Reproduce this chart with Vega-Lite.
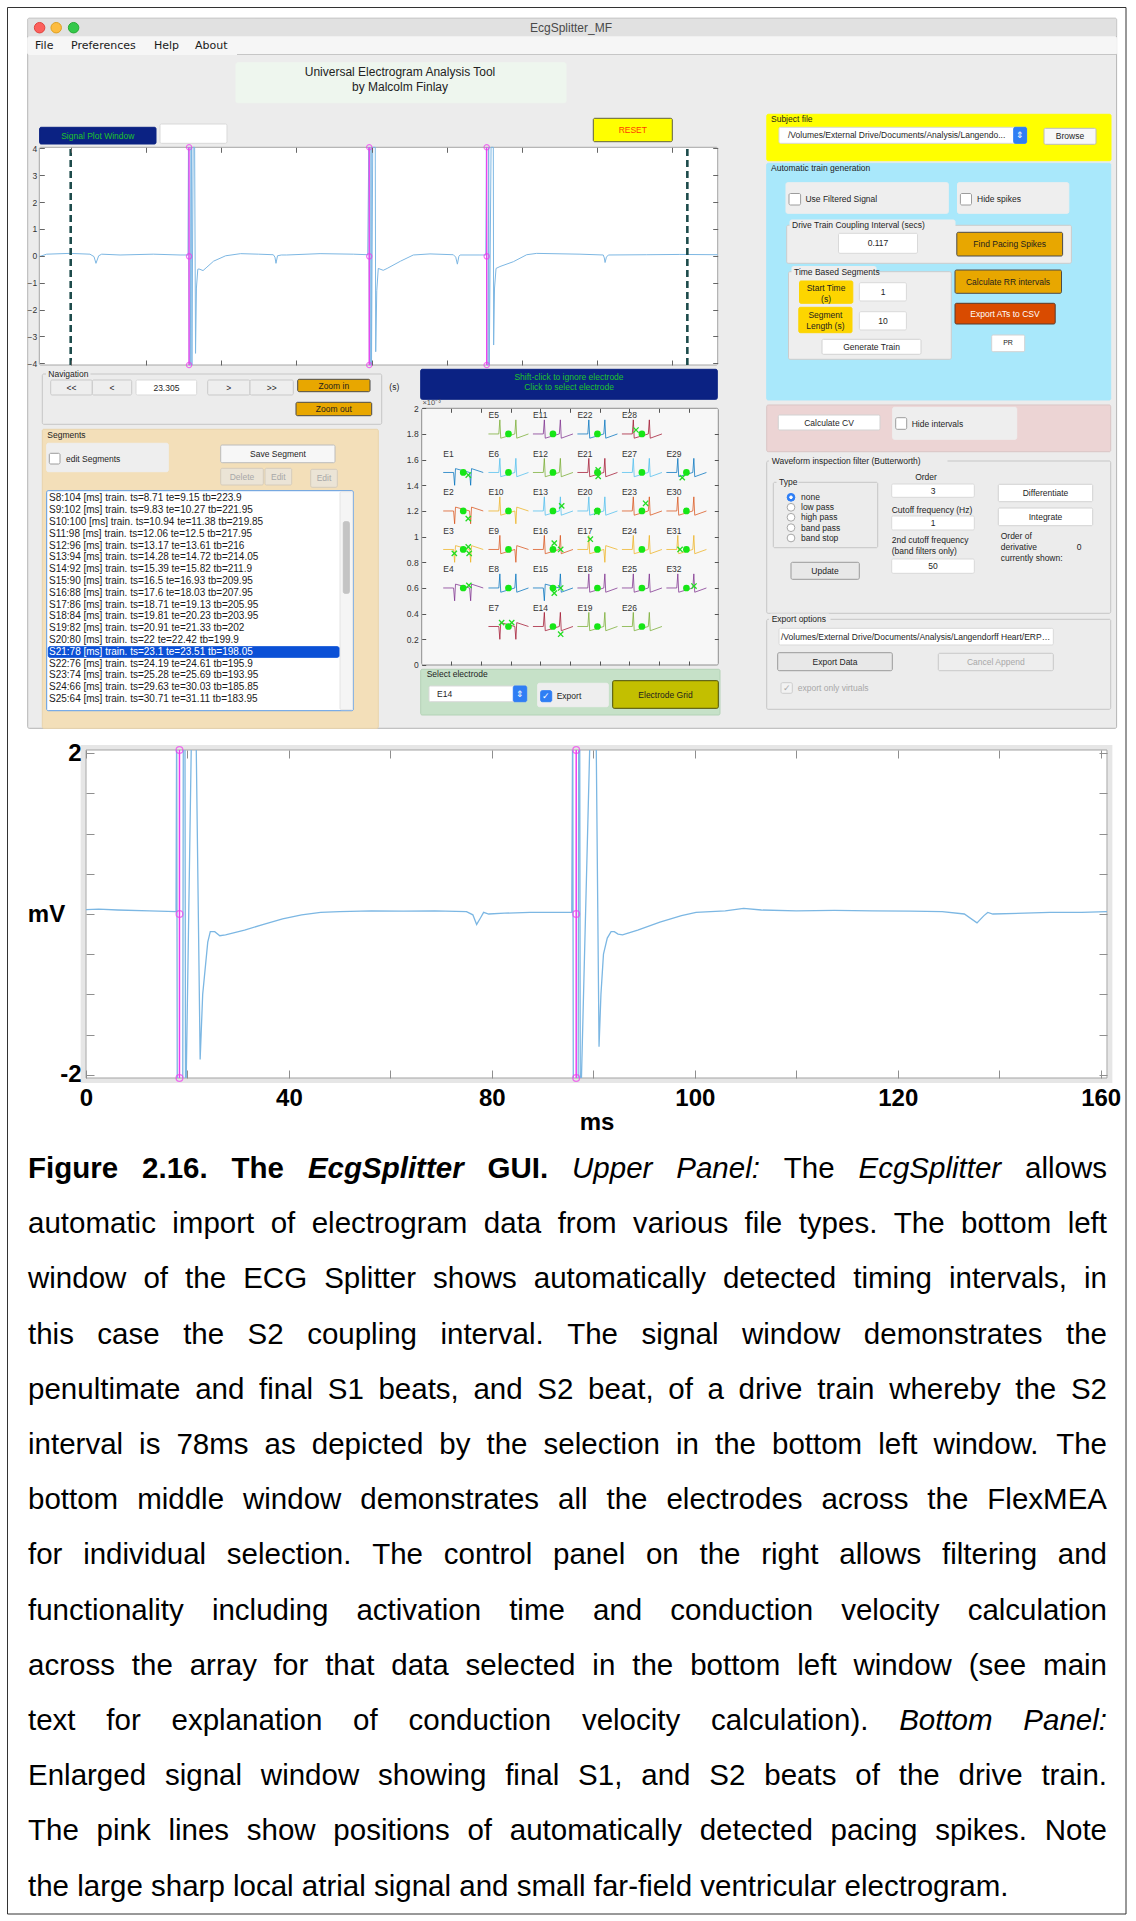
{
"$schema":"https://vega.github.io/schema/vega-lite/v6.json",
"padding":0,
"background":"#ffffff",
"spacing":0,
"bounds":"flush",
"config":{"font":"Liberation Sans","view":{"stroke":null},"legend":{"disable":true},"axis":{"grid":false,"zindex":1}},
"datasets":{
"gbox":[
{"x":27.7,"y":18.3,"x2":1116.6,"y2":728.3,"k":"window"},
{"x":27.7,"y":18.3,"x2":1116.6,"y2":36.7,"k":"titlebar"},
{"x":27.7,"y":36.7,"x2":1116.6,"y2":54.5,"k":"menubar"},
{"x":236,"y":62.7,"x2":566,"y2":102.7,"k":"titlebox"},
{"x":39.6,"y":127.3,"x2":156,"y2":144,"k":"navy"},
{"x":160,"y":124,"x2":227,"y2":143.3,"k":"white"},
{"x":593.3,"y":118.3,"x2":672.3,"y2":141.7,"k":"yellow"},
{"x":39.3,"y":147.3,"x2":717.7,"y2":365,"k":"plot"},
{"x":766.8,"y":114.3,"x2":1111,"y2":160.7,"k":"ypanel"},
{"x":779,"y":127.3,"x2":1026.6,"y2":143.3,"k":"white"},
{"x":1013.7,"y":127.3,"x2":1026.6,"y2":143.3,"k":"blue"},
{"x":1044,"y":128.3,"x2":1096,"y2":144.3,"k":"btn"},
{"x":766.7,"y":163.3,"x2":1110.7,"y2":400,"k":"cyan"},
{"x":786,"y":182.7,"x2":948.3,"y2":213.3,"k":"pg"},
{"x":789,"y":193.5,"x2":800.6,"y2":205,"k":"chk"},
{"x":957.5,"y":182.7,"x2":1068.8,"y2":213.3,"k":"pg"},
{"x":960.4,"y":193.5,"x2":971.5,"y2":205,"k":"chk"},
{"x":786.7,"y":225.3,"x2":1071.4,"y2":263.3,"k":"frame"},
{"x":790,"y":220,"x2":955,"y2":231,"k":"pg"},
{"x":838.5,"y":233.3,"x2":917.5,"y2":253.3,"k":"white"},
{"x":956.8,"y":232.3,"x2":1062.6,"y2":256,"k":"gold"},
{"x":788.5,"y":271.7,"x2":951.3,"y2":359.3,"k":"frame"},
{"x":792,"y":266.5,"x2":876,"y2":277,"k":"pg"},
{"x":799.5,"y":281,"x2":852.8,"y2":303.3,"k":"ylab"},
{"x":859.4,"y":282.7,"x2":906.4,"y2":301,"k":"white"},
{"x":798.8,"y":307.3,"x2":852,"y2":332.7,"k":"ylab"},
{"x":859.4,"y":311.7,"x2":906.4,"y2":330,"k":"white"},
{"x":822,"y":339.3,"x2":921,"y2":354.3,"k":"wbtn"},
{"x":955,"y":270,"x2":1061.5,"y2":293.3,"k":"gold"},
{"x":955,"y":303.3,"x2":1055.2,"y2":324,"k":"orange"},
{"x":991.7,"y":335,"x2":1024.7,"y2":351.7,"k":"wbtn"},
{"x":766.7,"y":405,"x2":1110.7,"y2":451.7,"k":"pink"},
{"x":778.3,"y":415,"x2":880,"y2":430,"k":"wbtn"},
{"x":892.7,"y":407.3,"x2":1016.7,"y2":439.3,"k":"pg"},
{"x":895.7,"y":417.7,"x2":906.7,"y2":429.3,"k":"chk"},
{"x":766.7,"y":461,"x2":1110.7,"y2":613.3,"k":"frame2"},
{"x":769.5,"y":456,"x2":947,"y2":466,"k":"lbg"},
{"x":773.3,"y":482.3,"x2":877.7,"y2":547.7,"k":"frame2"},
{"x":777,"y":477.5,"x2":798,"y2":487,"k":"lbg"},
{"x":891.7,"y":484,"x2":974.3,"y2":497.3,"k":"white"},
{"x":891.7,"y":516,"x2":974.3,"y2":530,"k":"white"},
{"x":891.7,"y":559,"x2":974.3,"y2":573.3,"k":"white"},
{"x":791,"y":562.3,"x2":859.3,"y2":579.3,"k":"gbtn"},
{"x":998.3,"y":484.3,"x2":1092.7,"y2":501.7,"k":"wbtn"},
{"x":998.3,"y":508,"x2":1092.7,"y2":525.7,"k":"wbtn"},
{"x":766.7,"y":619.3,"x2":1110.7,"y2":709.3,"k":"frame2"},
{"x":769.5,"y":614,"x2":830,"y2":624.5,"k":"lbg"},
{"x":779,"y":628.3,"x2":1053.3,"y2":645,"k":"white"},
{"x":777.7,"y":652.7,"x2":892.3,"y2":670.7,"k":"gbtn"},
{"x":938.3,"y":653.3,"x2":1053.3,"y2":670.7,"k":"gbtn2"},
{"x":781,"y":682.7,"x2":792.3,"y2":693.3,"k":"chk2"},
{"x":42.3,"y":374,"x2":381.7,"y2":424.3,"k":"frame2"},
{"x":46.5,"y":369,"x2":90,"y2":379,"k":"lbg"},
{"x":50.7,"y":380,"x2":92.3,"y2":395,"k":"gbtn2"},
{"x":92.3,"y":380,"x2":131.7,"y2":395,"k":"gbtn2"},
{"x":136,"y":380,"x2":196.7,"y2":395,"k":"white"},
{"x":207.7,"y":380,"x2":250,"y2":395,"k":"gbtn2"},
{"x":250,"y":380,"x2":293.3,"y2":395,"k":"gbtn2"},
{"x":297.7,"y":379.3,"x2":370,"y2":391.7,"k":"gold"},
{"x":296,"y":402.3,"x2":371.7,"y2":415.7,"k":"gold"},
{"x":42.3,"y":429.3,"x2":378.3,"y2":728.3,"k":"wheat"},
{"x":46.7,"y":443.3,"x2":168.3,"y2":471.7,"k":"pg"},
{"x":49.3,"y":453.3,"x2":60,"y2":464,"k":"chk"},
{"x":220.7,"y":445,"x2":335,"y2":462.7,"k":"btn"},
{"x":220.7,"y":468.3,"x2":263.3,"y2":485,"k":"dbtn"},
{"x":265,"y":468.3,"x2":291.7,"y2":485,"k":"dbtn"},
{"x":310.7,"y":469.3,"x2":337.3,"y2":487.3,"k":"dbtn"},
{"x":46.7,"y":490.7,"x2":353.3,"y2":710.7,"k":"list"},
{"x":340,"y":491.7,"x2":352.7,"y2":709.7,"k":"strack"},
{"x":343.3,"y":521.7,"x2":349.3,"y2":593.3,"k":"sthumb"},
{"x":48.3,"y":646.7,"x2":339,"y2":657.3,"k":"sel"},
{"x":420.7,"y":369.3,"x2":717.3,"y2":399.3,"k":"navy"},
{"x":421.7,"y":408.3,"x2":718.3,"y2":665,"k":"egrid"},
{"x":420.7,"y":669.3,"x2":720,"y2":715,"k":"green"},
{"x":429,"y":686,"x2":526.7,"y2":701.7,"k":"white"},
{"x":513.3,"y":686,"x2":526.7,"y2":701.7,"k":"blue"},
{"x":537.7,"y":683.3,"x2":608.3,"y2":706.7,"k":"pg"},
{"x":540.7,"y":690.7,"x2":551.7,"y2":701.7,"k":"blue"},
{"x":612.7,"y":680.7,"x2":718.3,"y2":708.3,"k":"olive"}
],
"grule":[
{"x":7.5,"y":7.5,"x2":1126,"y2":7.5,"k":"border"},
{"x":7.5,"y":7.5,"x2":7.5,"y2":750,"k":"border"},
{"x":1126,"y":7.5,"x2":1126,"y2":750,"k":"border"},
{"x":237,"y":54.5,"x2":1116.6,"y2":54.5,"k":"sep"}
],
"gpt":[
{"x":39.6,"y":27.7,"k":"r"},{"x":56.2,"y":27.7,"k":"a"},{"x":73.6,"y":27.7,"k":"g"},
{"x":791,"y":497.3,"k":"rs"},{"x":791,"y":497.3,"k":"dot"},{"x":791,"y":507.3,"k":"rd"},{"x":791,"y":517.3,"k":"rd"},{"x":791,"y":527.7,"k":"rd"},{"x":791,"y":538,"k":"rd"}
],
"gmenu":[{"x":35,"y":46,"t":"File"},{"x":71,"y":46,"t":"Preferences"},{"x":154,"y":46,"t":"Help"},{"x":195,"y":46,"t":"About"}],
"gtl":[
{"x":48.3,"y":374,"t":"Navigation","k":"lbl"},
{"x":47.3,"y":434.7,"t":"Segments","k":"lbl"},
{"x":66,"y":458.7,"t":"edit Segments","k":"lbl"},
{"x":389.3,"y":386.7,"t":"(s)","k":"lbl"},
{"x":771,"y":119.3,"t":"Subject file","k":"lbl"},
{"x":788,"y":135.3,"t":"/Volumes/External Drive/Documents/Analysis/Langendo...","k":"lbl"},
{"x":771,"y":167.7,"t":"Automatic train generation","k":"lbl"},
{"x":805.4,"y":199,"t":"Use Filtered Signal","k":"lbl"},
{"x":977,"y":199,"t":"Hide spikes","k":"lbl"},
{"x":792,"y":225.3,"t":"Drive Train Coupling Interval (secs)","k":"lbl"},
{"x":794,"y":271.7,"t":"Time Based Segments","k":"lbl"},
{"x":911.7,"y":424,"t":"Hide intervals","k":"lbl"},
{"x":771.7,"y":461,"t":"Waveform inspection filter (Butterworth)","k":"lbl"},
{"x":779,"y":482.3,"t":"Type","k":"lbl"},
{"x":801,"y":497.3,"t":"none","k":"lbl"},
{"x":801,"y":507.3,"t":"low pass","k":"lbl"},
{"x":801,"y":517.3,"t":"high pass","k":"lbl"},
{"x":801,"y":527.7,"t":"band pass","k":"lbl"},
{"x":801,"y":538,"t":"band stop","k":"lbl"},
{"x":891.7,"y":540,"t":"2nd cutoff frequency","k":"lbl"},
{"x":891.7,"y":550.7,"t":"(band filters only)","k":"lbl"},
{"x":1000.7,"y":536,"t":"Order of","k":"lbl"},
{"x":1000.7,"y":547,"t":"derivative","k":"lbl"},
{"x":1000.7,"y":558.3,"t":"currently shown:","k":"lbl"},
{"x":1076.7,"y":547,"t":"0","k":"lbl"},
{"x":771.7,"y":619.3,"t":"Export options","k":"lbl"},
{"x":797.7,"y":688,"t":"export only virtuals","k":"dis"},
{"x":426.7,"y":674,"t":"Select electrode","k":"lbl"},
{"x":437,"y":693.8,"t":"E14","k":"lbl"},
{"x":556.7,"y":696,"t":"Export","k":"lbl"}
],
"gtc":[
{"x":571,"y":27.7,"t":"EcgSplitter_MF","k":"etitle"},
{"x":400,"y":71.7,"t":"Universal Electrogram Analysis Tool","k":"big"},
{"x":400,"y":87.3,"t":"by Malcolm Finlay","k":"big"},
{"x":97.8,"y":135.7,"t":"Signal Plot Window","k":"navy"},
{"x":632.8,"y":130,"t":"RESET","k":"reset"},
{"x":569,"y":376.7,"t":"Shift-click to ignore electrode","k":"navy"},
{"x":569,"y":387.3,"t":"Click to select electrode","k":"navy"},
{"x":71.5,"y":387.5,"t":"<<","k":"lbl"},
{"x":112,"y":387.5,"t":"<","k":"lbl"},
{"x":166.4,"y":387.5,"t":"23.305","k":"lbl"},
{"x":228.8,"y":387.5,"t":">","k":"lbl"},
{"x":271.7,"y":387.5,"t":">>","k":"lbl"},
{"x":333.8,"y":385.5,"t":"Zoom in","k":"lbl"},
{"x":333.8,"y":409,"t":"Zoom out","k":"lbl"},
{"x":277.9,"y":453.8,"t":"Save Segment","k":"lbl"},
{"x":242,"y":476.7,"t":"Delete","k":"dis"},
{"x":278.3,"y":476.7,"t":"Edit","k":"dis"},
{"x":324,"y":478.3,"t":"Edit","k":"dis"},
{"x":1070,"y":136.3,"t":"Browse","k":"lbl"},
{"x":878,"y":243.3,"t":"0.117","k":"lbl"},
{"x":1009.7,"y":244,"t":"Find Pacing Spikes","k":"lbl"},
{"x":826,"y":287.7,"t":"Start Time","k":"lbl"},
{"x":826,"y":298.5,"t":"(s)","k":"lbl"},
{"x":883,"y":291.8,"t":"1","k":"lbl"},
{"x":825.4,"y":315,"t":"Segment","k":"lbl"},
{"x":825.4,"y":326,"t":"Length (s)","k":"lbl"},
{"x":883,"y":320.8,"t":"10","k":"lbl"},
{"x":871.5,"y":346.8,"t":"Generate Train","k":"lbl"},
{"x":1008,"y":281.7,"t":"Calculate RR intervals","k":"lbl"},
{"x":1005,"y":313.7,"t":"Export ATs to CSV","k":"white"},
{"x":1008,"y":343.3,"t":"PR","k":"small"},
{"x":829,"y":422.5,"t":"Calculate CV","k":"lbl"},
{"x":926,"y":477,"t":"Order","k":"lbl"},
{"x":933,"y":490.7,"t":"3","k":"lbl"},
{"x":932,"y":510,"t":"Cutoff frequency (Hz)","k":"lbl"},
{"x":933,"y":523,"t":"1","k":"lbl"},
{"x":933,"y":566,"t":"50","k":"lbl"},
{"x":825,"y":570.8,"t":"Update","k":"lbl"},
{"x":1045.5,"y":493,"t":"Differentiate","k":"lbl"},
{"x":1045.5,"y":517,"t":"Integrate","k":"lbl"},
{"x":835,"y":661.7,"t":"Export Data","k":"lbl"},
{"x":995.8,"y":662,"t":"Cancel Append","k":"dis"},
{"x":665.5,"y":694.5,"t":"Electrode Grid","k":"lbl"},
{"x":786.6,"y":688,"t":"✓","k":"dis"},
{"x":546.2,"y":696.2,"t":"✓","k":"white"},
{"x":1020.2,"y":135.3,"t":"⇕","k":"white"},
{"x":520,"y":693.8,"t":"⇕","k":"white"}
],
"gpath":[{"x":781,"y":636.7,"t":"/Volumes/External Drive/Documents/Analysis/Langendorff Heart/ERP & (Conduction"}],
"glist":[
{"x":49,"y":498.3,"t":"S8:104 [ms] train.  ts=8.71 te=9.15 tb=223.9","k":"li"},
{"x":49,"y":510.1,"t":"S9:102 [ms] train.  ts=9.83 te=10.27 tb=221.95","k":"li"},
{"x":49,"y":521.9,"t":"S10:100 [ms] train.  ts=10.94 te=11.38 tb=219.85","k":"li"},
{"x":49,"y":533.7,"t":"S11:98 [ms] train.  ts=12.06 te=12.5 tb=217.95","k":"li"},
{"x":49,"y":545.5,"t":"S12:96 [ms] train.  ts=13.17 te=13.61 tb=216","k":"li"},
{"x":49,"y":557.3,"t":"S13:94 [ms] train.  ts=14.28 te=14.72 tb=214.05","k":"li"},
{"x":49,"y":569.1,"t":"S14:92 [ms] train.  ts=15.39 te=15.82 tb=211.9","k":"li"},
{"x":49,"y":580.9,"t":"S15:90 [ms] train.  ts=16.5 te=16.93 tb=209.95","k":"li"},
{"x":49,"y":592.7,"t":"S16:88 [ms] train.  ts=17.6 te=18.03 tb=207.95","k":"li"},
{"x":49,"y":604.5,"t":"S17:86 [ms] train.  ts=18.71 te=19.13 tb=205.95","k":"li"},
{"x":49,"y":616.3,"t":"S18:84 [ms] train.  ts=19.81 te=20.23 tb=203.95","k":"li"},
{"x":49,"y":628.1,"t":"S19:82 [ms] train.  ts=20.91 te=21.33 tb=202","k":"li"},
{"x":49,"y":639.9,"t":"S20:80 [ms] train.  ts=22 te=22.42 tb=199.9","k":"li"},
{"x":49,"y":651.7,"t":"S21:78 [ms] train.  ts=23.1 te=23.51 tb=198.05","k":"ls"},
{"x":49,"y":663.5,"t":"S22:76 [ms] train.  ts=24.19 te=24.61 tb=195.9","k":"li"},
{"x":49,"y":675.3,"t":"S23:74 [ms] train.  ts=25.28 te=25.69 tb=193.95","k":"li"},
{"x":49,"y":687.1,"t":"S24:66 [ms] train.  ts=29.63 te=30.03 tb=185.85","k":"li"},
{"x":49,"y":698.9,"t":"S25:64 [ms] train.  ts=30.71 te=31.11 tb=183.95","k":"li"}
],
"gsig":[
{"t":23.0791,"v":-0.03},{"t":23.084,"v":0.06},{"t":23.0995,"v":0.09},{"t":23.1128,"v":0.06},{"t":23.1155,"v":-0.03},{"t":23.1168,"v":-0.28},{"t":23.1186,"v":0.0},{"t":23.1206,"v":0.06},{"t":23.1328,"v":0.03},{"t":23.1549,"v":0.06},{"t":23.1727,"v":0.03},{"t":23.178,"v":0.03},
{"t":23.1783,"v":4.037},{"t":23.1788,"v":-4.063},{"t":23.1796,"v":-4.063},{"t":23.1799,"v":4.037},{"t":23.1803,"v":4.037},{"t":23.1806,"v":-4.063},{"t":23.1814,"v":4.037},{"t":23.1824,"v":4.037},{"t":23.183,"v":-3.63},{"t":23.1836,"v":-1.2},{"t":23.1845,"v":-0.5},{"t":23.1853,"v":-0.49},{"t":23.188,"v":-0.55},{"t":23.19,"v":-0.45},{"t":23.195,"v":-0.2},{"t":23.203,"v":0.0},{"t":23.213,"v":0.08},{"t":23.225,"v":0.06},{"t":23.2347,"v":0.04},{"t":23.2358,"v":-0.05},{"t":23.2365,"v":-0.28},{"t":23.2375,"v":0.0},{"t":23.24,"v":0.03},{"t":23.2436,"v":0.03},{"t":23.2658,"v":0.08},{"t":23.2879,"v":0.06},{"t":23.2975,"v":0.04},
{"t":23.2982,"v":4.037},{"t":23.2986,"v":-4.063},{"t":23.2994,"v":-4.063},{"t":23.2997,"v":4.037},{"t":23.3,"v":-4.063},{"t":23.3008,"v":4.037},{"t":23.3025,"v":4.037},{"t":23.3028,"v":-3.57},{"t":23.3035,"v":-1.3},{"t":23.3045,"v":-0.47},{"t":23.3078,"v":-0.54},{"t":23.3104,"v":-0.47},{"t":23.3193,"v":-0.2},{"t":23.3278,"v":0.03},{"t":23.3389,"v":0.07},{"t":23.3544,"v":0.04},{"t":23.356,"v":-0.05},{"t":23.3571,"v":-0.31},{"t":23.3581,"v":-0.02},{"t":23.3589,"v":0.03},{"t":23.3721,"v":0.03},{"t":23.376,"v":0.03},
{"t":23.3764,"v":4.037},{"t":23.3768,"v":-4.063},{"t":23.3776,"v":-4.063},{"t":23.3779,"v":4.037},{"t":23.3783,"v":-4.063},{"t":23.3795,"v":4.037},{"t":23.381,"v":4.037},{"t":23.3812,"v":-3.32},{"t":23.3818,"v":-1.2},{"t":23.3828,"v":-0.47},{"t":23.3854,"v":-0.4},{"t":23.3943,"v":-0.22},{"t":23.4032,"v":0.04},{"t":23.4098,"v":0.09},{"t":23.4386,"v":0.06},{"t":23.4541,"v":0.03},{"t":23.4548,"v":-0.08},{"t":23.4553,"v":-0.25},{"t":23.4562,"v":-0.05},{"t":23.4575,"v":0.03},{"t":23.483,"v":0.04},{"t":23.505,"v":0.05},{"t":23.5302,"v":0.04}
],
"gpink":[{"t":23.1787},{"t":23.2985},{"t":23.3766}],
"gpinkpt":[{"t":23.1787,"v":4.037},{"t":23.1787,"v":-0.02},{"t":23.1787,"v":-4.063},{"t":23.2985,"v":4.037},{"t":23.2985,"v":-0.02},{"t":23.2985,"v":-4.063},{"t":23.3766,"v":4.037},{"t":23.3766,"v":-0.02},{"t":23.3766,"v":-4.063}],
"gdash":[{"t":23.1},{"t":23.51}],
"etr":[
{"e":"E5","c":"green","x":[0.45,0.52,0.527,0.533,0.628,0.635,0.641,0.72],"y":[1.8,1.8,1.91,1.767,1.8,1.91,1.767,1.8]},
{"e":"E11","c":"purple","x":[0.75,0.82,0.827,0.833,0.928,0.935,0.941,1.02],"y":[1.8,1.8,1.91,1.767,1.8,1.91,1.767,1.8]},
{"e":"E22","c":"blue","x":[1.05,1.12,1.127,1.133,1.228,1.235,1.241,1.32],"y":[1.8,1.8,1.91,1.767,1.8,1.91,1.767,1.8]},
{"e":"E28","c":"red","x":[1.35,1.42,1.427,1.433,1.528,1.535,1.541,1.62],"y":[1.8,1.8,1.91,1.767,1.8,1.91,1.767,1.8]},
{"e":"E1","c":"blue","x":[0.145,0.215,0.222,0.228,0.323,0.33,0.336,0.415],"y":[1.5,1.5,1.4,1.53,1.5,1.4,1.53,1.5]},
{"e":"E6","c":"lblue","x":[0.45,0.52,0.527,0.533,0.628,0.635,0.641,0.72],"y":[1.5,1.5,1.61,1.467,1.5,1.61,1.467,1.5]},
{"e":"E12","c":"green","x":[0.75,0.82,0.827,0.833,0.928,0.935,0.941,1.02],"y":[1.5,1.5,1.61,1.467,1.5,1.61,1.467,1.5]},
{"e":"E21","c":"red","x":[1.05,1.12,1.127,1.133,1.228,1.235,1.241,1.32],"y":[1.5,1.5,1.61,1.467,1.5,1.61,1.467,1.5]},
{"e":"E27","c":"lblue","x":[1.35,1.42,1.427,1.433,1.528,1.535,1.541,1.62],"y":[1.5,1.5,1.61,1.467,1.5,1.61,1.467,1.5]},
{"e":"E29","c":"blue","x":[1.65,1.72,1.727,1.733,1.828,1.835,1.841,1.92],"y":[1.5,1.5,1.61,1.467,1.5,1.61,1.467,1.5]},
{"e":"E2","c":"orange","x":[0.145,0.215,0.222,0.228,0.323,0.33,0.336,0.415],"y":[1.2,1.2,1.1,1.23,1.2,1.1,1.23,1.2]},
{"e":"E10","c":"yellow","x":[0.45,0.52,0.527,0.533,0.628,0.635,0.641,0.72],"y":[1.2,1.2,1.31,1.167,1.2,1.1,1.23,1.2]},
{"e":"E13","c":"lblue","x":[0.75,0.82,0.827,0.833,0.928,0.935,0.941,1.02],"y":[1.2,1.2,1.31,1.167,1.2,1.31,1.167,1.2]},
{"e":"E20","c":"lblue","x":[1.05,1.12,1.127,1.133,1.228,1.235,1.241,1.32],"y":[1.2,1.2,1.31,1.167,1.2,1.31,1.167,1.2]},
{"e":"E23","c":"orange","x":[1.35,1.42,1.427,1.433,1.528,1.535,1.541,1.62],"y":[1.2,1.2,1.31,1.167,1.2,1.31,1.167,1.2]},
{"e":"E30","c":"orange","x":[1.65,1.72,1.727,1.733,1.828,1.835,1.841,1.92],"y":[1.2,1.2,1.31,1.167,1.2,1.31,1.167,1.2]},
{"e":"E3","c":"yellow","x":[0.145,0.215,0.222,0.228,0.323,0.33,0.336,0.415],"y":[0.9,0.9,0.8,0.93,0.9,0.8,0.93,0.9]},
{"e":"E9","c":"orange","x":[0.45,0.52,0.527,0.533,0.628,0.635,0.641,0.72],"y":[0.9,0.9,1.01,0.867,0.9,0.8,0.93,0.9]},
{"e":"E16","c":"orange","x":[0.75,0.82,0.827,0.833,0.928,0.935,0.941,1.02],"y":[0.9,0.9,1.01,0.867,0.9,1.01,0.867,0.9]},
{"e":"E17","c":"yellow","x":[1.05,1.12,1.127,1.133,1.228,1.235,1.241,1.32],"y":[0.9,0.9,1.01,0.867,0.9,0.8,0.93,0.9]},
{"e":"E24","c":"yellow","x":[1.35,1.42,1.427,1.433,1.528,1.535,1.541,1.62],"y":[0.9,0.9,1.01,0.867,0.9,1.01,0.867,0.9]},
{"e":"E31","c":"yellow","x":[1.65,1.72,1.727,1.733,1.828,1.835,1.841,1.92],"y":[0.9,0.9,1.01,0.867,0.9,1.01,0.867,0.9]},
{"e":"E4","c":"purple","x":[0.145,0.215,0.222,0.228,0.323,0.33,0.336,0.415],"y":[0.6,0.6,0.5,0.63,0.6,0.5,0.63,0.6]},
{"e":"E8","c":"blue","x":[0.45,0.52,0.527,0.533,0.628,0.635,0.641,0.72],"y":[0.6,0.6,0.71,0.567,0.6,0.71,0.567,0.6]},
{"e":"E15","c":"blue","x":[0.75,0.82,0.827,0.833,0.928,0.935,0.941,1.02],"y":[0.6,0.6,0.5,0.63,0.6,0.71,0.567,0.6]},
{"e":"E18","c":"purple","x":[1.05,1.12,1.127,1.133,1.228,1.235,1.241,1.32],"y":[0.6,0.6,0.71,0.567,0.6,0.71,0.567,0.6]},
{"e":"E25","c":"purple","x":[1.35,1.42,1.427,1.433,1.528,1.535,1.541,1.62],"y":[0.6,0.6,0.71,0.567,0.6,0.71,0.567,0.6]},
{"e":"E32","c":"purple","x":[1.65,1.72,1.727,1.733,1.828,1.835,1.841,1.92],"y":[0.6,0.6,0.71,0.567,0.6,0.71,0.567,0.6]},
{"e":"E7","c":"red","x":[0.45,0.52,0.527,0.533,0.628,0.635,0.641,0.72],"y":[0.3,0.3,0.2,0.33,0.3,0.2,0.33,0.3]},
{"e":"E14","c":"red","x":[0.75,0.82,0.827,0.833,0.928,0.935,0.941,1.02],"y":[0.3,0.3,0.41,0.267,0.3,0.41,0.267,0.3]},
{"e":"E19","c":"green","x":[1.05,1.12,1.127,1.133,1.228,1.235,1.241,1.32],"y":[0.3,0.3,0.41,0.267,0.3,0.41,0.267,0.3]},
{"e":"E26","c":"green","x":[1.35,1.42,1.427,1.433,1.528,1.535,1.541,1.62],"y":[0.3,0.3,0.41,0.267,0.3,0.41,0.267,0.3]}
],
"elec":[
{"e":"E5","x":0.585,"y":1.8},{"e":"E11","x":0.885,"y":1.8},{"e":"E22","x":1.185,"y":1.8},{"e":"E28","x":1.485,"y":1.8},
{"e":"E1","x":0.28,"y":1.5},{"e":"E6","x":0.585,"y":1.5},{"e":"E12","x":0.885,"y":1.5},{"e":"E21","x":1.185,"y":1.5},{"e":"E27","x":1.485,"y":1.5},{"e":"E29","x":1.785,"y":1.5},
{"e":"E2","x":0.28,"y":1.2},{"e":"E10","x":0.585,"y":1.2},{"e":"E13","x":0.885,"y":1.2},{"e":"E20","x":1.185,"y":1.2},{"e":"E23","x":1.485,"y":1.2},{"e":"E30","x":1.785,"y":1.2},
{"e":"E3","x":0.28,"y":0.9},{"e":"E9","x":0.585,"y":0.9},{"e":"E16","x":0.885,"y":0.9},{"e":"E17","x":1.185,"y":0.9},{"e":"E24","x":1.485,"y":0.9},{"e":"E31","x":1.785,"y":0.9},
{"e":"E4","x":0.28,"y":0.6},{"e":"E8","x":0.585,"y":0.6},{"e":"E15","x":0.885,"y":0.6},{"e":"E18","x":1.185,"y":0.6},{"e":"E25","x":1.485,"y":0.6},{"e":"E32","x":1.785,"y":0.6},
{"e":"E7","x":0.585,"y":0.3},{"e":"E14","x":0.885,"y":0.3},{"e":"E19","x":1.185,"y":0.3},{"e":"E26","x":1.485,"y":0.3}
],
"ecross":[
{"x":1.445,"y":1.831},{"x":0.314,"y":1.48},{"x":1.19,"y":1.52},{"x":1.19,"y":1.47},{"x":1.757,"y":1.46},{"x":0.314,"y":1.14},{"x":0.944,"y":1.24},{"x":1.18,"y":1.19},{"x":1.51,"y":1.26},{"x":0.22,"y":0.87},{"x":0.314,"y":0.92},{"x":0.32,"y":0.87},{"x":0.894,"y":0.95},{"x":0.937,"y":0.9},{"x":1.137,"y":0.98},{"x":1.742,"y":0.9},{"x":0.318,"y":0.62},{"x":0.894,"y":0.56},{"x":0.937,"y":0.6},{"x":1.836,"y":0.615},{"x":0.539,"y":0.33},{"x":0.607,"y":0.33},{"x":0.937,"y":0.24}
],
"bsig":[
{"u":0,"v":0.054},{"u":2,"v":0.06},{"u":5,"v":0.05},{"u":10,"v":0.04},{"u":14.2,"v":0.03},{"u":14.3,"v":2.6},{"u":14.4,"v":-2.6},{"u":15.25,"v":-2.6},{"u":15.35,"v":2.6},{"u":15.6,"v":2.6},{"u":15.7,"v":-2.6},{"u":16.7,"v":2.6},{"u":17.3,"v":2.6},{"u":18.0,"v":-1.81},{"u":18.4,"v":-1.0},{"u":19.2,"v":-0.35},{"u":19.6,"v":-0.22},{"u":20.3,"v":-0.22},{"u":21.1,"v":-0.27},{"u":22,"v":-0.26},{"u":25,"v":-0.2},{"u":28,"v":-0.13},{"u":31,"v":-0.06},{"u":34,"v":-0.01},{"u":37,"v":0.02},{"u":40,"v":0.03},{"u":45,"v":0.04},{"u":50,"v":0.035},{"u":55,"v":0.04},{"u":60,"v":0.03},{"u":61,"v":-0.01},{"u":61.6,"v":-0.13},{"u":62.2,"v":-0.05},{"u":62.7,"v":0.02},{"u":63.5,"v":0.0},{"u":66,"v":0.01},{"u":70,"v":0.02},{"u":76.6,"v":0.02},{"u":76.75,"v":2.6},{"u":76.85,"v":-2.6},{"u":77.6,"v":-2.6},{"u":77.7,"v":2.6},{"u":77.85,"v":2.6},{"u":77.95,"v":-2.6},{"u":79.6,"v":2.6},{"u":80.4,"v":2.6},{"u":80.9,"v":-1.65},{"u":81.2,"v":-1.0},{"u":81.6,"v":-0.5},{"u":82.2,"v":-0.3},{"u":82.8,"v":-0.22},{"u":83.3,"v":-0.22},{"u":83.9,"v":-0.25},{"u":84.6,"v":-0.26},{"u":87,"v":-0.2},{"u":90.5,"v":-0.1},{"u":93.9,"v":-0.02},{"u":96.2,"v":0.02},{"u":100.8,"v":0.04},{"u":103.7,"v":0.07},{"u":106.5,"v":0.05},{"u":112,"v":0.04},{"u":118,"v":0.045},{"u":124,"v":0.04},{"u":130,"v":0.035},{"u":135,"v":0.03},{"u":138.5,"v":0.0},{"u":140.5,"v":-0.11},{"u":141.6,"v":-0.02},{"u":142.2,"v":0.02},{"u":143,"v":0.0},{"u":148,"v":0.01},{"u":152,"v":0.02},{"u":157,"v":0.02},{"u":161,"v":0.03}
],
"bpink":[{"u":14.74},{"u":77.3}],
"bpinkpt":[{"u":14.74,"v":2.04},{"u":14.74,"v":0},{"u":14.74,"v":-2.04},{"u":77.3,"v":2.04},{"u":77.3,"v":0},{"u":77.3,"v":-2.04}],
"cap":[
{"ln":1,"p":0,"t":"Figure","s":"b"},{"ln":1,"p":3865.9,"t":"2.16.","s":"b"},{"ln":1,"p":6899.8,"t":"The","s":"b"},{"ln":1,"p":9487.7,"t":"EcgSplitter","s":"bi"},{"ln":1,"p":15576.6,"t":"GUI.","s":"b"},{"ln":1,"p":18442.5,"t":"Upper","s":"i"},{"ln":1,"p":21975.3,"t":"Panel:","s":"i"},{"ln":1,"p":25620.2,"t":"The","s":"n"},{"ln":1,"p":28153.1,"t":"EcgSplitter","s":"i"},{"ln":1,"p":33798,"t":"allows","s":"n"},
{"ln":2,"p":0,"t":"automatic","s":"n"},{"ln":2,"p":4891.5,"t":"import","s":"n"},{"ln":2,"p":8225.9,"t":"of","s":"n"},{"ln":2,"p":9616.4,"t":"electrogram","s":"n"},{"ln":2,"p":15451.8,"t":"data","s":"n"},{"ln":2,"p":17954.3,"t":"from","s":"n"},{"ln":2,"p":20510.7,"t":"various","s":"n"},{"ln":2,"p":24290.2,"t":"file","s":"n"},{"ln":2,"p":26124.6,"t":"types.","s":"n"},{"ln":2,"p":29349.1,"t":"The","s":"n"},{"ln":2,"p":31628.5,"t":"bottom","s":"n"},{"ln":2,"p":35242,"t":"left","s":"n"},
{"ln":3,"p":0,"t":"window","s":"n"},{"ln":3,"p":3912.8,"t":"of","s":"n"},{"ln":3,"p":5325.6,"t":"the","s":"n"},{"ln":3,"p":7294.4,"t":"ECG","s":"n"},{"ln":3,"p":10040.2,"t":"Splitter","s":"n"},{"ln":3,"p":13731,"t":"shows","s":"n"},{"ln":3,"p":17143.8,"t":"automatically","s":"n"},{"ln":3,"p":23557.6,"t":"detected","s":"n"},{"ln":3,"p":27972.4,"t":"timing","s":"n"},{"ln":3,"p":31218.2,"t":"intervals,","s":"n"},{"ln":3,"p":35798,"t":"in","s":"n"},
{"ln":4,"p":0,"t":"this","s":"n"},{"ln":4,"p":2351.3,"t":"case","s":"n"},{"ln":4,"p":5258.6,"t":"the","s":"n"},{"ln":4,"p":7443.9,"t":"S2","s":"n"},{"ln":4,"p":9462.2,"t":"coupling","s":"n"},{"ln":4,"p":13981.5,"t":"interval.","s":"n"},{"ln":4,"p":18277.8,"t":"The","s":"n"},{"ln":4,"p":20796.1,"t":"signal","s":"n"},{"ln":4,"p":24203.4,"t":"window","s":"n"},{"ln":4,"p":28332.7,"t":"demonstrates","s":"n"},{"ln":4,"p":35186,"t":"the","s":"n"},
{"ln":5,"p":0,"t":"penultimate","s":"n"},{"ln":5,"p":5665.4,"t":"and","s":"n"},{"ln":5,"p":7829.7,"t":"final","s":"n"},{"ln":5,"p":10160.1,"t":"S1","s":"n"},{"ln":5,"p":11879.4,"t":"beats,","s":"n"},{"ln":5,"p":15099.8,"t":"and","s":"n"},{"ln":5,"p":17264.2,"t":"S2","s":"n"},{"ln":5,"p":18983.5,"t":"beat,","s":"n"},{"ln":5,"p":21703.9,"t":"of","s":"n"},{"ln":5,"p":23034.2,"t":"a","s":"n"},{"ln":5,"p":24086.6,"t":"drive","s":"n"},{"ln":5,"p":26750,"t":"train","s":"n"},{"ln":5,"p":29191.3,"t":"whereby","s":"n"},{"ln":5,"p":33466.7,"t":"the","s":"n"},{"ln":5,"p":35353,"t":"S2","s":"n"},
{"ln":6,"p":0,"t":"interval","s":"n"},{"ln":6,"p":3766.4,"t":"is","s":"n"},{"ln":6,"p":5031.8,"t":"78ms","s":"n"},{"ln":6,"p":8020.1,"t":"as","s":"n"},{"ln":6,"p":9619.5,"t":"depicted","s":"n"},{"ln":6,"p":13942.9,"t":"by","s":"n"},{"ln":6,"p":15542.3,"t":"the","s":"n"},{"ln":6,"p":17475.7,"t":"selection","s":"n"},{"ln":6,"p":21965,"t":"in","s":"n"},{"ln":6,"p":23286.4,"t":"the","s":"n"},{"ln":6,"p":25219.8,"t":"bottom","s":"n"},{"ln":6,"p":28820.2,"t":"left","s":"n"},{"ln":6,"p":30697.6,"t":"window.","s":"n"},{"ln":6,"p":34852.9,"t":"The","s":"n"},
{"ln":7,"p":0,"t":"bottom","s":"n"},{"ln":7,"p":3700.1,"t":"middle","s":"n"},{"ln":7,"p":7288.2,"t":"window","s":"n"},{"ln":7,"p":11265.3,"t":"demonstrates","s":"n"},{"ln":7,"p":17966.4,"t":"all","s":"n"},{"ln":7,"p":19609.6,"t":"the","s":"n"},{"ln":7,"p":21642.7,"t":"electrodes","s":"n"},{"ln":7,"p":26898.8,"t":"across","s":"n"},{"ln":7,"p":30486.9,"t":"the","s":"n"},{"ln":7,"p":32520,"t":"FlexMEA","s":"n"},
{"ln":8,"p":0,"t":"for","s":"n"},{"ln":8,"p":1869.8,"t":"individual","s":"n"},{"ln":8,"p":6740.6,"t":"selection.","s":"n"},{"ln":8,"p":11667.5,"t":"The","s":"n"},{"ln":8,"p":14093.3,"t":"control","s":"n"},{"ln":8,"p":17797.1,"t":"panel","s":"n"},{"ln":8,"p":20945.9,"t":"on","s":"n"},{"ln":8,"p":22760.7,"t":"the","s":"n"},{"ln":8,"p":24853.6,"t":"right","s":"n"},{"ln":8,"p":27501.4,"t":"allows","s":"n"},{"ln":8,"p":30982.2,"t":"filtering","s":"n"},{"ln":8,"p":34908,"t":"and","s":"n"},
{"ln":9,"p":0,"t":"functionality","s":"n"},{"ln":9,"p":6233.6,"t":"including","s":"n"},{"ln":9,"p":11133.1,"t":"activation","s":"n"},{"ln":9,"p":16310.7,"t":"time","s":"n"},{"ln":9,"p":19153.3,"t":"and","s":"n"},{"ln":9,"p":21774.9,"t":"conduction","s":"n"},{"ln":9,"p":27564.4,"t":"velocity","s":"n"},{"ln":9,"p":31852,"t":"calculation","s":"n"},
{"ln":10,"p":0,"t":"across","s":"n"},{"ln":10,"p":3518.3,"t":"the","s":"n"},{"ln":10,"p":5481.6,"t":"array","s":"n"},{"ln":10,"p":8332.9,"t":"for","s":"n"},{"ln":10,"p":10073.2,"t":"that","s":"n"},{"ln":10,"p":12314.6,"t":"data","s":"n"},{"ln":10,"p":14833.9,"t":"selected","s":"n"},{"ln":10,"p":19131.2,"t":"in","s":"n"},{"ln":10,"p":20482.5,"t":"the","s":"n"},{"ln":10,"p":22445.8,"t":"bottom","s":"n"},{"ln":10,"p":26076.1,"t":"left","s":"n"},{"ln":10,"p":27983.4,"t":"window","s":"n"},{"ln":10,"p":31890.7,"t":"(see","s":"n"},{"ln":10,"p":34409,"t":"main","s":"n"},
{"ln":11,"p":0,"t":"text","s":"n"},{"ln":11,"p":2654.6,"t":"for","s":"n"},{"ln":11,"p":4864.3,"t":"explanation","s":"n"},{"ln":11,"p":11020.9,"t":"of","s":"n"},{"ln":11,"p":12897.5,"t":"conduction","s":"n"},{"ln":11,"p":18776.2,"t":"velocity","s":"n"},{"ln":11,"p":23152.8,"t":"calculation).","s":"n"},{"ln":11,"p":29530.4,"t":"Bottom","s":"i"},{"ln":11,"p":33741,"t":"Panel:","s":"i"},
{"ln":12,"p":0,"t":"Enlarged","s":"n"},{"ln":12,"p":4641.5,"t":"signal","s":"n"},{"ln":12,"p":7893,"t":"window","s":"n"},{"ln":12,"p":11866.5,"t":"showing","s":"n"},{"ln":12,"p":16174,"t":"final","s":"n"},{"ln":12,"p":18647.5,"t":"S1,","s":"n"},{"ln":12,"p":20788,"t":"and","s":"n"},{"ln":12,"p":23095.5,"t":"S2","s":"n"},{"ln":12,"p":24958,"t":"beats","s":"n"},{"ln":12,"p":28043.5,"t":"of","s":"n"},{"ln":12,"p":29517,"t":"the","s":"n"},{"ln":12,"p":31546.5,"t":"drive","s":"n"},{"ln":12,"p":34353,"t":"train.","s":"n"},
{"ln":13,"p":0,"t":"The","s":"n"},{"ln":13,"p":2323.8,"t":"pink","s":"n"},{"ln":13,"p":4758.6,"t":"lines","s":"n"},{"ln":13,"p":7415.4,"t":"show","s":"n"},{"ln":13,"p":10350.2,"t":"positions","s":"n"},{"ln":13,"p":14897,"t":"of","s":"n"},{"ln":13,"p":16331.8,"t":"automatically","s":"n"},{"ln":13,"p":22767.6,"t":"detected","s":"n"},{"ln":13,"p":27204.4,"t":"pacing","s":"n"},{"ln":13,"p":30751.2,"t":"spikes.","s":"n"},{"ln":13,"p":34464,"t":"Note","s":"n"},
{"ln":14,"p":0,"t":"the large sharp local atrial signal and small far-field ventricular electrogram.","s":"n"}
],
"cborder":[{"x":7.5,"x2":7.5,"y":0,"y2":836},{"x":1126,"x2":1126,"y":0,"y2":836},{"x":7.5,"x2":1126,"y":836,"y2":836}]
},
"vconcat":[
{
"width":1136,"height":750,
"layer":[
{
"layer":[
{"data":{"name":"gbox"},"mark":{"type":"rect","strokeWidth":1,"cornerRadius":1.5},
"encoding":{
"x":{"field":"x","type":"quantitative","scale":{"domain":[0,1136],"nice":false,"zero":false},"axis":null},
"x2":{"field":"x2"},
"y":{"field":"y","type":"quantitative","scale":{"domain":[0,750],"nice":false,"zero":false,"reverse":true},"axis":null},
"y2":{"field":"y2"},
"fill":{"field":"k","type":"nominal","scale":{"domain":["window","titlebar","menubar","titlebox","navy","white","yellow","plot","ypanel","blue","btn","cyan","pg","chk","frame","gold","ylab","wbtn","orange","pink","frame2","lbg","gbtn","gbtn2","chk2","wheat","dbtn","list","strack","sthumb","sel","egrid","green","olive"],"range":["#ececec","#e1e1e1","#f6f6f6","#eef6ee","#0b2283","#ffffff","#ffff00","#ffffff","#ffff00","#2f7ef4","#f7f7f7","#a9e8fb","#eeeeee","#ffffff","#eeeeee","#e8a700","#fdd500","#ffffff","#d94b00","#ecd4d4","#ececec","#ececec","#e8e8e8","#eeeeee","#f2f2f2","#f3dfb9","#ebe4d6","#ffffff","#f5f5f5","#c4c4c4","#0b50d6","#f7f7f7","#c6e1c8","#c3bf00"]}},
"stroke":{"field":"k","type":"nominal","scale":{"domain":["window","titlebar","menubar","titlebox","navy","white","yellow","plot","ypanel","blue","btn","cyan","pg","chk","frame","gold","ylab","wbtn","orange","pink","frame2","lbg","gbtn","gbtn2","chk2","wheat","dbtn","list","strack","sthumb","sel","egrid","green","olive"],"range":["#b5b5b5","#cdcdcd","#f6f6f6","#eef6ee","#0b2283","#d9d9d9","#5f5f40","#a6a6a6","#ffff00","#2f7ef4","#bcbcbc","#a9e8fb","#eeeeee","#9c9c9c","#cccccc","#4b4b4b","#fdd500","#d2d2d2","#5a3a2a","#d9c5c5","#c6c6c6","#ececec","#9a9a9a","#c9c9c9","#cccccc","#e9d4ac","#d5ccbc","#5b9ae6","#e4e4e4","#c4c4c4","#0b50d6","#8e8e8e","#b3d2b6","#4d4d00"]}}
}},
{"data":{"name":"grule"},"mark":{"type":"rule","strokeWidth":1},
"encoding":{
"x":{"field":"x","type":"quantitative","scale":{"domain":[0,1136],"nice":false,"zero":false},"axis":null},
"x2":{"field":"x2"},
"y":{"field":"y","type":"quantitative","scale":{"domain":[0,750],"nice":false,"zero":false,"reverse":true},"axis":null},
"y2":{"field":"y2"},
"stroke":{"field":"k","type":"nominal","scale":{"domain":["border","sep"],"range":["#333333","#c6c6c6"]}}
}},
{"data":{"name":"gpt"},"mark":{"type":"point","shape":"circle","filled":true,"strokeWidth":1,"opacity":1},
"encoding":{
"x":{"field":"x","type":"quantitative","scale":{"domain":[0,1136],"nice":false,"zero":false},"axis":null},
"y":{"field":"y","type":"quantitative","scale":{"domain":[0,750],"nice":false,"zero":false,"reverse":true},"axis":null},
"fill":{"field":"k","type":"nominal","scale":{"domain":["r","a","g","rs","dot","rd"],"range":["#fc605c","#fdbc40","#34c84a","#2f7ff6","#ffffff","#ffffff"]}},
"stroke":{"field":"k","type":"nominal","scale":{"domain":["r","a","g","rs","dot","rd"],"range":["#e0443e","#dea123","#27aa35","#2f7ff6","#ffffff","#a8a8a8"]}},
"size":{"field":"k","type":"nominal","scale":{"type":"ordinal","domain":["r","a","g","rs","dot","rd"],"range":[110,110,110,60,7,60]}}
}},
{"data":{"name":"gmenu"},"mark":{"type":"text","align":"left","baseline":"middle","font":"DejaVu Sans","fontSize":11,"color":"#1a1a1a"},
"encoding":{
"x":{"field":"x","type":"quantitative","scale":{"domain":[0,1136],"nice":false,"zero":false},"axis":null},
"y":{"field":"y","type":"quantitative","scale":{"domain":[0,750],"nice":false,"zero":false,"reverse":true},"axis":null},
"text":{"field":"t"}
}},
{"data":{"name":"gtl"},"mark":{"type":"text","align":"left","baseline":"middle"},
"encoding":{
"x":{"field":"x","type":"quantitative","scale":{"domain":[0,1136],"nice":false,"zero":false},"axis":null},
"y":{"field":"y","type":"quantitative","scale":{"domain":[0,750],"nice":false,"zero":false,"reverse":true},"axis":null},
"text":{"field":"t"},
"color":{"field":"k","type":"nominal","scale":{"domain":["lbl","big","navy","reset","white","dis","small","etitle"],"range":["#1e1e1e","#222222","#1ec22a","#ff3b00","#ffffff","#a8a8a8","#222222","#4a4a4a"]}},
"size":{"field":"k","type":"nominal","scale":{"type":"ordinal","domain":["lbl","big","navy","reset","white","dis","small","etitle"],"range":[8.5,12,8.5,8.5,8.5,8.5,7,12]}}
}},
{"data":{"name":"gtc"},"mark":{"type":"text","align":"center","baseline":"middle"},
"encoding":{
"x":{"field":"x","type":"quantitative","scale":{"domain":[0,1136],"nice":false,"zero":false},"axis":null},
"y":{"field":"y","type":"quantitative","scale":{"domain":[0,750],"nice":false,"zero":false,"reverse":true},"axis":null},
"text":{"field":"t"},
"color":{"field":"k","type":"nominal","scale":{"domain":["lbl","big","navy","reset","white","dis","small","etitle"],"range":["#1e1e1e","#222222","#1ec22a","#ff3b00","#ffffff","#a8a8a8","#222222","#4a4a4a"]}},
"size":{"field":"k","type":"nominal","scale":{"type":"ordinal","domain":["lbl","big","navy","reset","white","dis","small","etitle"],"range":[8.5,12,8.5,8.5,8.5,8.5,7,12]}}
}},
{"data":{"name":"gpath"},"mark":{"type":"text","align":"left","baseline":"middle","fontSize":8.5,"limit":270,"ellipsis":"","color":"#1e1e1e"},
"encoding":{
"x":{"field":"x","type":"quantitative","scale":{"domain":[0,1136],"nice":false,"zero":false},"axis":null},
"y":{"field":"y","type":"quantitative","scale":{"domain":[0,750],"nice":false,"zero":false,"reverse":true},"axis":null},
"text":{"field":"t"}
}},
{"data":{"name":"glist"},"mark":{"type":"text","align":"left","baseline":"middle","fontSize":10},
"encoding":{
"x":{"field":"x","type":"quantitative","scale":{"domain":[0,1136],"nice":false,"zero":false},"axis":null},
"y":{"field":"y","type":"quantitative","scale":{"domain":[0,750],"nice":false,"zero":false,"reverse":true},"axis":null},
"text":{"field":"t"},
"color":{"field":"k","type":"nominal","scale":{"domain":["li","ls"],"range":["#1a1a1a","#ffffff"]}}
}}
],
"resolve":{"scale":{"fill":"independent","stroke":"independent","color":"independent","size":"independent"}}
},
{
"layer":[
{"data":{"name":"gsig"},"mark":{"type":"line","color":"#7db7e3","strokeWidth":1},
"encoding":{
"x":{"field":"t","type":"quantitative","scale":{"domain":[23.05299,23.80831],"nice":false,"zero":false},
"axis":{"orient":"bottom","offset":-385,"zindex":1,"values":[23.1,23.15,23.2,23.25,23.3,23.35,23.4,23.45,23.5],"labels":false,"tickSize":-5,"tickColor":"#666666","domain":false,"grid":false,"title":null}},
"y":{"field":"v","type":"quantitative","scale":{"domain":[-18.389,9.518],"nice":false,"zero":false},
"axis":{"orient":"left","offset":-39.3,"zindex":1,"values":[-4,-3,-2,-1,0,1,2,3,4],"labelFontSize":8.5,"labelColor":"#333333","labelPadding":7.6,"labelOverlap":false,"tickSize":-5,"tickColor":"#666666","domain":false,"grid":false,"title":null}}
}},
{"data":{"name":"gdash"},"mark":{"type":"rule","color":"#1d4b4b","strokeWidth":2.6,"strokeDash":[7,4]},
"encoding":{
"x":{"field":"t","type":"quantitative","scale":{"domain":[23.05299,23.80831],"nice":false,"zero":false},"axis":null},
"y":{"datum":-4.063,"type":"quantitative","scale":{"domain":[-18.389,9.518],"nice":false,"zero":false},"axis":null},
"y2":{"datum":4.037}
}},
{"data":{"name":"gpink"},"mark":{"type":"rule","color":"#ee3dee","strokeWidth":1.3},
"encoding":{
"x":{"field":"t","type":"quantitative","scale":{"domain":[23.05299,23.80831],"nice":false,"zero":false},"axis":null},
"y":{"datum":-4.063,"type":"quantitative","scale":{"domain":[-18.389,9.518],"nice":false,"zero":false},"axis":null},
"y2":{"datum":4.037}
}},
{"data":{"name":"gpinkpt"},"mark":{"type":"point","shape":"circle","filled":false,"color":"#ee3dee","size":28,"strokeWidth":1.2},
"encoding":{
"x":{"field":"t","type":"quantitative","scale":{"domain":[23.05299,23.80831],"nice":false,"zero":false},
"axis":{"orient":"top","offset":-147.3,"zindex":1,"values":[23.1,23.15,23.2,23.25,23.3,23.35,23.4,23.45,23.5],"labels":false,"tickSize":-5,"tickColor":"#666666","domain":false,"grid":false,"title":null}},
"y":{"field":"v","type":"quantitative","scale":{"domain":[-18.389,9.518],"nice":false,"zero":false},
"axis":{"orient":"right","offset":-418.3,"zindex":1,"values":[-4,-3,-2,-1,0,1,2,3,4],"labels":false,"tickSize":-5,"tickColor":"#666666","domain":false,"grid":false,"title":null}}
}}
],
"resolve":{"axis":{"x":"independent","y":"independent"}}
},
{
"layer":[
{"data":{"name":"etr"},"transform":[{"flatten":["x","y"]}],"mark":{"type":"line","strokeWidth":1,"opacity":0.75},
"encoding":{
"x":{"field":"x","type":"quantitative","scale":{"domain":[-2.8436,4.8166],"nice":false,"zero":false},
"axis":{"orient":"bottom","offset":-85,"zindex":1,"values":[0.2,0.4,0.6,0.8,1,1.2,1.4,1.6,1.8],"labels":false,"tickSize":-4,"tickColor":"#555555","domain":false,"grid":false,"title":null}},
"y":{"field":"y","type":"quantitative","scale":{"domain":[-0.6623,5.1811],"nice":false,"zero":false},
"axis":{"orient":"left","offset":-421.7,"zindex":1,"values":[0,0.2,0.4,0.6,0.8,1,1.2,1.4,1.6,1.8,2],"format":"~g","labelFontSize":8.5,"labelColor":"#333333","labelPadding":7.5,"labelOverlap":false,"tickSize":-4,"tickColor":"#555555","domain":false,"grid":false,"title":null}},
"detail":{"field":"e"},
"stroke":{"field":"c","type":"nominal","scale":{"domain":["blue","orange","yellow","purple","green","lblue","red"],"range":["#0072bd","#d95319","#edb120","#7e2f8e","#77ac30","#4dbeee","#a2142f"]}}
}},
{"data":{"name":"elec"},"mark":{"type":"point","shape":"circle","filled":true,"color":"#16e616","size":45,"opacity":1},
"encoding":{
"x":{"field":"x","type":"quantitative","scale":{"domain":[-2.8436,4.8166],"nice":false,"zero":false},
"axis":{"orient":"top","offset":-408.3,"zindex":1,"values":[0.2,0.4,0.6,0.8,1,1.2,1.4,1.6,1.8],"labels":false,"tickSize":-4,"tickColor":"#555555","domain":false,"grid":false,"title":null}},
"y":{"field":"y","type":"quantitative","scale":{"domain":[-0.6623,5.1811],"nice":false,"zero":false},
"axis":{"orient":"right","offset":-417.7,"zindex":1,"values":[0.2,0.4,0.6,0.8,1,1.2,1.4,1.6,1.8],"labels":false,"tickSize":-4,"tickColor":"#555555","domain":false,"grid":false,"title":null}}
}},
{"data":{"name":"elec"},"mark":{"type":"text","align":"left","baseline":"middle","dx":-20,"dy":-18.5,"fontSize":8.5,"color":"#333333"},
"encoding":{
"x":{"field":"x","type":"quantitative","scale":{"domain":[-2.8436,4.8166],"nice":false,"zero":false},"axis":null},
"y":{"field":"y","type":"quantitative","scale":{"domain":[-0.6623,5.1811],"nice":false,"zero":false},"axis":null},
"text":{"field":"e"}
}},
{"data":{"name":"ecross"},"mark":{"type":"point","shape":"M-1,-1L1,1M1,-1L-1,1","size":28,"filled":false,"color":"#22dd22","strokeWidth":1.3,"opacity":1},
"encoding":{
"x":{"field":"x","type":"quantitative","scale":{"domain":[-2.8436,4.8166],"nice":false,"zero":false},"axis":null},
"y":{"field":"y","type":"quantitative","scale":{"domain":[-0.6623,5.1811],"nice":false,"zero":false},"axis":null}
}},
{"data":{"values":[{"x":0.005,"y":2,"t":"×10⁻³"}]},"mark":{"type":"text","align":"left","baseline":"middle","dy":-5,"fontSize":7.5,"color":"#555555"},
"encoding":{
"x":{"field":"x","type":"quantitative","scale":{"domain":[-2.8436,4.8166],"nice":false,"zero":false},"axis":null},
"y":{"field":"y","type":"quantitative","scale":{"domain":[-0.6623,5.1811],"nice":false,"zero":false},"axis":null},
"text":{"field":"t"}
}}
],
"resolve":{"axis":{"x":"independent","y":"independent"}}
}
],
"resolve":{"scale":{"x":"independent","y":"independent","color":"independent","fill":"independent","stroke":"independent","size":"independent","shape":"independent","opacity":"independent"}}
},
{
"width":1136,"height":328,
"layer":[
{"data":{"values":[{"x":7.5,"y":0,"y2":328},{"x":1126,"y":0,"y2":328}]},"mark":{"type":"rule","color":"#333333","strokeWidth":1},
"encoding":{"x":{"field":"x","type":"quantitative","scale":{"domain":[0,1136],"nice":false,"zero":false},"axis":null},"y":{"field":"y","type":"quantitative","scale":{"domain":[0,328],"nice":false,"zero":false},"axis":null},"y2":{"field":"y2"}}},
{"data":{"values":[{}]},"mark":{"type":"rect","fillOpacity":0,"stroke":"#e6e6e6","strokeWidth":5},
"encoding":{"x":{"datum":-0.45,"type":"quantitative","scale":{"domain":[-13.5612,165.5729],"nice":false,"zero":false},"axis":null},"x2":{"datum":161.45},"y":{"datum":-2.07,"type":"quantitative","scale":{"domain":[-2.04,2.04],"nice":false,"zero":false},"axis":null},"y2":{"datum":2.07}}},
{"data":{"values":[{}]},"mark":{"type":"rect","fillOpacity":0,"stroke":"#a3a3a3","strokeWidth":1},
"encoding":{"x":{"datum":0,"type":"quantitative","scale":{"domain":[-13.5612,165.5729],"nice":false,"zero":false},"axis":null},"x2":{"datum":161},"y":{"datum":-2.04,"type":"quantitative","scale":{"domain":[-2.04,2.04],"nice":false,"zero":false},"axis":null},"y2":{"datum":2.04}}},
{"data":{"name":"bsig"},"mark":{"type":"line","color":"#7cb7e3","strokeWidth":1.3,"clip":true},
"encoding":{
"x":{"field":"u","type":"quantitative","scale":{"domain":[-13.5612,165.5729],"nice":false,"zero":false},
"axis":{"orient":"bottom","zindex":1,"values":[0,16,32,48,64,80,96,112,128,144,160],"labelExpr":"datum.value==0?'0':datum.value==32?'40':datum.value==64?'80':datum.value==96?'100':datum.value==128?'120':datum.value==160?'160':''","tickSize":-8,"tickColor":"#8f8f8f","labelPadding":16.5,"labelFontWeight":"bold","labelFontSize":24,"labelColor":"#000000","labelFlush":false,"labelOverlap":false,"domain":false,"grid":false,"title":"ms","titleFontSize":24,"titleFontWeight":"bold","titleColor":"#000000","titleX":596.5,"titleY":51,"titleBaseline":"alphabetic","titleAlign":"center"}},
"y":{"field":"v","type":"quantitative","scale":{"domain":[-2.04,2.04],"nice":false,"zero":false},
"axis":{"orient":"left","offset":-86,"zindex":1,"values":[-2,-1.5,-1,-0.5,0,0.5,1,1.5,2],"labelExpr":"datum.value==2?'2':datum.value==-2?'-2':''","tickSize":-8,"tickColor":"#8f8f8f","labelPadding":13,"labelFontWeight":"bold","labelFontSize":24,"labelColor":"#000000","labelOverlap":false,"domain":false,"grid":false,"title":"mV","titleAngle":0,"titleX":-40,"titleY":164.5,"titleAlign":"center","titleBaseline":"middle","titleFontSize":24,"titleFontWeight":"bold","titleColor":"#000000"}}
}},
{"data":{"name":"bpink"},"mark":{"type":"rule","color":"#ef3def","strokeWidth":1.5},
"encoding":{"x":{"field":"u","type":"quantitative","scale":{"domain":[-13.5612,165.5729],"nice":false,"zero":false},"axis":null}}},
{"data":{"name":"bpinkpt"},"mark":{"type":"point","shape":"circle","filled":false,"color":"#ef3def","size":45,"strokeWidth":1.3,"clip":false},
"encoding":{
"x":{"field":"u","type":"quantitative","scale":{"domain":[-13.5612,165.5729],"nice":false,"zero":false},
"axis":{"orient":"top","zindex":1,"values":[0,16,32,48,64,80,96,112,128,144,160],"labels":false,"tickSize":-8,"tickColor":"#8f8f8f","domain":false,"grid":false,"title":null}},
"y":{"field":"v","type":"quantitative","scale":{"domain":[-2.04,2.04],"nice":false,"zero":false},
"axis":{"orient":"right","offset":-29,"zindex":1,"values":[-2,-1.5,-1,-0.5,0,0.5,1,1.5,2],"labels":false,"tickSize":-8,"tickColor":"#8f8f8f","domain":false,"grid":false,"title":null}}
}}
],
"resolve":{"scale":{"x":"independent","y":"independent"},"axis":{"x":"independent","y":"independent"}}
},
{
"width":1136,"height":843,
"layer":[
{"data":{"name":"cap"},"transform":[{"filter":"datum.s=='n'"}],"mark":{"type":"text","align":"left","baseline":"middle","fontSize":29.5,"color":"#000000"},
"encoding":{"x":{"field":"p","type":"quantitative","scale":{"domain":[-949.15,37559.32],"nice":false,"zero":false},"axis":null},"y":{"field":"ln","type":"quantitative","scale":{"domain":[-0.6486,14.623],"nice":false,"zero":false,"reverse":true},"axis":null},"text":{"field":"t"}}},
{"data":{"name":"cap"},"transform":[{"filter":"datum.s=='i'"}],"mark":{"type":"text","align":"left","baseline":"middle","fontSize":29.5,"fontStyle":"italic","color":"#000000"},
"encoding":{"x":{"field":"p","type":"quantitative","scale":{"domain":[-949.15,37559.32],"nice":false,"zero":false},"axis":null},"y":{"field":"ln","type":"quantitative","scale":{"domain":[-0.6486,14.623],"nice":false,"zero":false,"reverse":true},"axis":null},"text":{"field":"t"}}},
{"data":{"name":"cap"},"transform":[{"filter":"datum.s=='b'"}],"mark":{"type":"text","align":"left","baseline":"middle","fontSize":29.5,"fontWeight":"bold","color":"#000000"},
"encoding":{"x":{"field":"p","type":"quantitative","scale":{"domain":[-949.15,37559.32],"nice":false,"zero":false},"axis":null},"y":{"field":"ln","type":"quantitative","scale":{"domain":[-0.6486,14.623],"nice":false,"zero":false,"reverse":true},"axis":null},"text":{"field":"t"}}},
{"data":{"name":"cap"},"transform":[{"filter":"datum.s=='bi'"}],"mark":{"type":"text","align":"left","baseline":"middle","fontSize":29.5,"fontWeight":"bold","fontStyle":"italic","color":"#000000"},
"encoding":{"x":{"field":"p","type":"quantitative","scale":{"domain":[-949.15,37559.32],"nice":false,"zero":false},"axis":null},"y":{"field":"ln","type":"quantitative","scale":{"domain":[-0.6486,14.623],"nice":false,"zero":false,"reverse":true},"axis":null},"text":{"field":"t"}}},
{"data":{"name":"cborder"},"mark":{"type":"rule","color":"#333333","strokeWidth":1},
"encoding":{"x":{"field":"x","type":"quantitative","scale":{"domain":[0,1136],"nice":false,"zero":false},"axis":null},"x2":{"field":"x2"},"y":{"field":"y","type":"quantitative","scale":{"domain":[0,843],"nice":false,"zero":false,"reverse":true},"axis":null},"y2":{"field":"y2"}}}
],
"resolve":{"scale":{"x":"independent","y":"independent"}}
}
]
}
